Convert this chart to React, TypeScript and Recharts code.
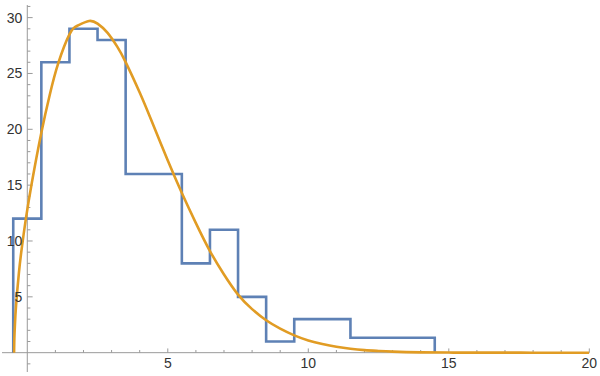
import React from 'react';
import { ComposedChart, Line, XAxis, YAxis, ReferenceLine, ReferenceDot } from 'recharts';

// Histogram outline (bin left edges and heights)
const binEdges = [-0.5, -0.5, 0.5, 1.5, 2.5, 3.5, 5.5, 6.5, 7.5, 8.5, 9.5, 11.5, 14.5];
const binHeights = [0, 12, 26, 29, 28, 16, 8, 11, 5, 1, 3, 1.33, 0];

// Fitted density curve
const curveX = [-0.47, -0.46, -0.44, -0.4, -0.3, -0.2, -0.05, 0.16, 0.5, 0.8, 1.1, 1.5, 1.8, 2.2, 2.5, 2.85, 3.2, 3.5, 4.0, 4.4, 5.0, 5.5, 6.0, 6.5, 7.0, 7.5, 8.0, 8.5, 9.0, 9.5, 10, 10.5, 11, 11.5, 12, 12.5, 13, 14, 15, 16, 18, 20];
const curveY = [0, 1.3, 2.5, 4.2, 7.1, 9.3, 12.0, 15.2, 19.7, 23.1, 25.9, 28.5, 29.3, 29.7, 29.46, 28.66, 27.4, 26.02, 23.3, 20.9, 17.2, 14.3, 11.6, 9.1, 7.0, 5.2, 3.9, 2.9, 2.15, 1.55, 1.1, 0.78, 0.53, 0.35, 0.23, 0.15, 0.09, 0.03, 0.01, 0.003, 0, 0];

// Axis ticks
const xMinorTicks = [1, 2, 3, 4, 6, 7, 8, 9, 11, 12, 13, 14, 16, 17, 18, 19];
const xMajorTicks = [5, 10, 15, 20];
const yMinorTicks = [-1, 1, 2, 3, 4, 6, 7, 8, 9, 11, 12, 13, 14, 16, 17, 18, 19, 21, 22, 23, 24, 26, 27, 28, 29, 31];
const yMajorTicks = [5, 10, 15, 20, 25, 30];

const xDomain = [-0.9, 20];
const yDomain = [-1.73, 31.13];

const histData = binEdges.map((x, i) => ({ x, y: binHeights[i] }));
const curveData = curveX.map((x, i) => ({ x, y: curveY[i] }));

const AXIS = '#9a9a9a';
const LABEL_STYLE = { fontFamily: 'Liberation Sans, Arial, sans-serif', fontSize: 14, fill: '#333' };

export default function App() {
  return (
    <div style={{ position: 'absolute', left: 0, top: 0, width: 600, height: 376, background: '#fff' }}>
      <ComposedChart width={600} height={376} margin={{ top: 5, right: 10.7, bottom: 4, left: 2 }}>
        <XAxis type="number" dataKey="x" domain={xDomain} allowDataOverflow hide />
        <YAxis type="number" dataKey="y" domain={yDomain} allowDataOverflow hide width={0} />
        <ReferenceLine y={0} stroke={AXIS} strokeWidth={1} />
        <ReferenceLine x={0} stroke={AXIS} strokeWidth={1} />
        {xMinorTicks.map((v) => (
          <ReferenceLine key={'xm' + v} segment={[{ x: v, y: 0 }, { x: v, y: 0.24 }]} stroke={AXIS} />
        ))}
        {xMajorTicks.map((v) => (
          <ReferenceLine key={'xM' + v} segment={[{ x: v, y: 0 }, { x: v, y: 0.38 }]} stroke={AXIS} />
        ))}
        {yMinorTicks.map((v) => (
          <ReferenceLine key={'ym' + v} segment={[{ x: 0, y: v }, { x: 0.11, y: v }]} stroke={AXIS} />
        ))}
        {yMajorTicks.map((v) => (
          <ReferenceLine key={'yM' + v} segment={[{ x: 0, y: v }, { x: 0.19, y: v }]} stroke={AXIS} />
        ))}
        {xMajorTicks.map((v) => (
          <ReferenceDot key={'xl' + v} x={v} y={0} r={0} stroke="none" fill="none"
            label={{ value: String(v), position: 'bottom', offset: 5, style: LABEL_STYLE }} />
        ))}
        {yMajorTicks.map((v) => (
          <ReferenceDot key={'yl' + v} x={0} y={v} r={0} stroke="none" fill="none"
            label={{ value: String(v), position: 'left', offset: 5, style: LABEL_STYLE }} />
        ))}
        <Line data={histData} dataKey="y" type="stepAfter" stroke="#5E81B5" strokeWidth={2.6}
          strokeLinejoin="miter" dot={false} isAnimationActive={false} />
        <Line data={curveData} dataKey="y" type="natural" stroke="#E19C24" strokeWidth={2.6}
          dot={false} isAnimationActive={false} />
      </ComposedChart>
    </div>
  );
}
